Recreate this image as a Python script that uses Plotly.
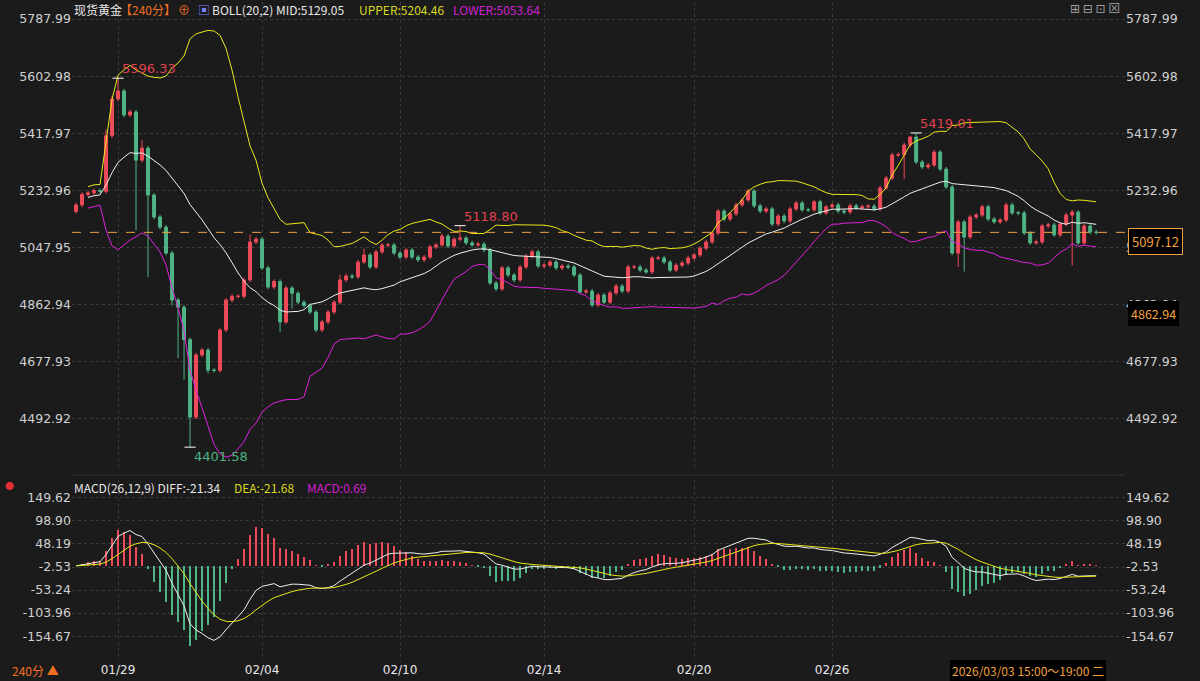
import plotly.graph_objects as go
import numpy as np
import pandas as pd

closes = [5186,5220,5225,5232,5230,5410,5529,5555,5477,5487,5331,5370,5218,5147,5114,5030,4878,4855,4750,4499,
          4700,4716,4651,4650,4781,4878,4890,4890,4943,5066,5075,4982,4920,4938,4807,4917,4900,
          4871,4860,4839,4781,4807,4839,4871,4943,4956,4953,5001,5024,4985,5034,5056,5056,5030,5017,5040,5017,
          5008,5017,5050,5056,5085,5053,5075,5079,5063,5056,5059,5040,4933,4914,4982,4959,4943,4985,5020,5034,
          4988,4991,5001,4982,4988,4985,4959,4904,4907,4862,4894,4871,4901,4923,4907,4985,4985,4975,4969,5014,
          5014,5001,4975,4991,4998,5014,5024,
          5046,5066,5095,5166,5140,5157,5186,5202,5231,5183,5166,5173,5124,5150,5134,5173,5192,5170,5170,5196,
          5160,5180,5186,5166,5163,5183,5176,5180,5182,5173,5241,5273,5348,5348,5380,5406,5325,5309,5315,5357,
          5302,5244,5030,5131,5082,5147,5153,5180,5140,5131,5137,5186,5160,5160,5095,5063,5066,5118,5121,5089,
          5124,5153,5163,5063,5118,5098,5097.12]
first_open = 5165
high_over = {7: 5596.33, 140: 5419.01, 64: 5118.80, 29: 5090, 5: 5430, 6: 5540, 11: 5395, 44: 4960, 48: 5045, 139: 5410}
low_over = {19: 4401.58, 10: 5104, 12: 4952, 16: 4860, 18: 4620, 17: 4690, 22: 4640, 147: 4985, 148: 4970, 34: 4775, 36: 4850, 166: 4990, 138: 5270}
tick_idx = [7, 31, 54, 78, 103, 126]
tick_txt = ['01/29', '02/04', '02/10', '02/14', '02/20', '02/26']
price_ticks = [5787.99, 5602.98, 5417.97, 5232.96, 5047.95, 4862.94, 4677.93, 4492.92]
macd_ticks = [149.62, 98.90, 48.19, -2.53, -53.24, -103.96, -154.67]

n = len(closes)
x = list(range(n))
opens = [first_open] + closes[:-1]
highs = [high_over.get(i, max(opens[i], closes[i]) + 7) for i in range(n)]
lows = [low_over.get(i, min(opens[i], closes[i]) - 7) for i in range(n)]

s = pd.Series(closes, dtype=float)
mid = s.rolling(20, min_periods=3).mean()
sd = s.rolling(20, min_periods=3).std(ddof=0)
up, lo = mid + 2 * sd, mid - 2 * sd
ema12 = s.ewm(span=12, adjust=False).mean()
ema26 = s.ewm(span=26, adjust=False).mean()
dif = ema12 - ema26
dea = dif.ewm(span=9, adjust=False).mean()
hist = 2 * (dif - dea)

RED, GREEN = '#ee4b5a', '#4fb486'
BG = '#1b1b1b'
fig = go.Figure()
fig.add_trace(go.Candlestick(x=x, open=opens, high=highs, low=lows, close=closes,
    increasing=dict(line=dict(color=RED, width=1), fillcolor=RED),
    decreasing=dict(line=dict(color=GREEN, width=1), fillcolor=GREEN), whiskerwidth=0, xaxis='x', yaxis='y'))
fig.add_trace(go.Scatter(x=x, y=up, mode='lines', line=dict(color='#e8e81a', width=1), xaxis='x', yaxis='y'))
fig.add_trace(go.Scatter(x=x, y=mid, mode='lines', line=dict(color='#f0f0f0', width=1), xaxis='x', yaxis='y'))
fig.add_trace(go.Scatter(x=x, y=lo, mode='lines', line=dict(color='#e020e0', width=1), xaxis='x', yaxis='y'))
fig.add_trace(go.Bar(x=x, y=hist, width=0.22, marker=dict(color=[RED if v >= 0 else GREEN for v in hist], line_width=0),
                     xaxis='x2', yaxis='y2'))
fig.add_trace(go.Scatter(x=x, y=dif, mode='lines', line=dict(color='#f0f0f0', width=1), xaxis='x2', yaxis='y2'))
fig.add_trace(go.Scatter(x=x, y=dea, mode='lines', line=dict(color='#e8e81a', width=1), xaxis='x2', yaxis='y2'))
fig.add_trace(go.Scatter(x=[0], y=[closes[0]], mode='markers', marker_opacity=0, xaxis='x', yaxis='y3', hoverinfo='skip'))
fig.add_trace(go.Scatter(x=[0], y=[0], mode='markers', marker_opacity=0, xaxis='x2', yaxis='y4', hoverinfo='skip'))

W, H = 1200, 681
L, T = 72, 2
R = W - 1125
B = H - 661
pw, ph = W - L - R, H - T - B
def px(v): return (v - L) / pw
def py(v): return (H - B - v) / ph

xr = [-0.67, 174.8]
main_dom = [py(470), 1]
macd_dom = [0, py(480)]
ytop = 5787.99 + (19 - T) * 3.238
ybot = 5787.99 - (470 - 19) * 3.238
grid = dict(showgrid=True, gridcolor='#3a3a3a', griddash='dot', gridwidth=1, zeroline=False)
lbl = dict(color='#d0d0d0', size=12.5, family='DejaVu Sans, Verdana')
fig.update_layout(
    width=W, height=H, margin=dict(l=L, r=R, t=T, b=B), paper_bgcolor=BG, plot_bgcolor=BG,
    showlegend=False, bargap=0,
    xaxis=dict(domain=[0, 1], range=xr, tickvals=tick_idx, showticklabels=False, rangeslider=dict(visible=False), **grid),
    xaxis2=dict(domain=[0, 1], range=xr, tickvals=tick_idx, ticktext=tick_txt, anchor='y2',
                tickfont=dict(color='#e8e8e8', size=12, family='DejaVu Sans, Verdana'), ticklen=0, **grid),
    yaxis=dict(domain=main_dom, range=[ybot, ytop], autorange=False, tickvals=price_ticks,
               ticktext=[f'{v:.2f}' for v in price_ticks], tickfont=lbl, **grid),
    yaxis3=dict(domain=main_dom, overlaying='y', side='right', range=[ybot, ytop], autorange=False,
                tickvals=price_ticks, ticktext=[f'{v:.2f}' for v in price_ticks], tickfont=lbl, showgrid=False, zeroline=False),
    yaxis2=dict(domain=macd_dom, range=[-209.4, 189], tickvals=macd_ticks, ticktext=[f'{v:.2f}' for v in macd_ticks],
                tickfont=lbl, anchor='x2', **grid),
    yaxis4=dict(domain=macd_dom, overlaying='y2', side='right', range=[-209.4, 189], tickvals=macd_ticks,
                ticktext=[f'{v:.2f}' for v in macd_ticks], tickfont=lbl, anchor='x2', showgrid=False, zeroline=False),
)

last = closes[-1]
fig.add_shape(type='line', xref='x', yref='y', x0=xr[0], x1=xr[1], y0=last, y1=last,
              line=dict(color='#f0a040', width=1, dash='dash'))
fig.add_shape(type='line', xref='paper', yref='paper', x0=0, x1=1, y0=py(475), y1=py(475), line=dict(color='#333', width=1))

def ann(xp, yp, text, color, size=12, xanchor='left', bg=None, border=None, pad=2):
    fig.add_annotation(xref='paper', yref='paper', x=px(xp), y=py(yp), text=text, showarrow=False,
                       xanchor=xanchor, yanchor='middle', font=dict(color=color, size=size, family='Noto Sans CJK SC, DejaVu Sans'),
                       bgcolor=bg, bordercolor=border, borderwidth=1 if border else 0, borderpad=pad)

ann(72, 10, '现货黄金', '#e8e8e8')
ann(118, 10, '【240分】', '#f07020')
ann(176, 10, '⊕', '#f07020')
ann(196, 10, '▣', '#8080ff')
ann(210, 10, 'BOLL(20,2) MID:5129.05', '#e8e8e8')
ann(357, 10, 'UPPER:5204.46', '#d8d820')
ann(451, 10, 'LOWER:5053.64', '#d020d0')
ann(1068, 8, '⊞ ⊟ ⊡ ⊠', '#a0a0a0', size=12)
ann(72, 487, 'MACD(26,12,9) DIFF:-21.34', '#e8e8e8')
ann(232, 487, 'DEA:-21.68', '#d8d820')
ann(305, 487, 'MACD:0.69', '#d020d0')
ann(3, 485, '●', '#e03030', size=9)
ann(10, 670, '240分 ▲', '#f07020', size=12)
ann(950, 670, '2026/03/03 15:00～19:00 二', '#f0a040', size=12, bg='#000000')
ann(1128, 241, '5097.12', '#f0a040', size=13, bg='#000000', border='#f0a040', pad=3)
ann(1128, 313, '4862.94', '#f0a040', size=12.5, bg='#000000', pad=3)

for i, t, c, top in [(7, '5596.33', '#e04050', True), (19, '4401.58', '#4fb486', False), (64, '5118.80', '#e04050', True), (140, '5419.01', '#e04050', True)]:
    v = highs[i] if top else lows[i]
    fig.add_annotation(x=i, y=v, xref='x', yref='y', text=t, showarrow=False,
                       xanchor='left', yanchor='bottom' if top else 'top', xshift=2,
                       font=dict(color=c, size=13, family='DejaVu Sans'))
    fig.add_trace(go.Scatter(x=[i], y=[v], mode='markers', marker=dict(symbol='line-ew', size=8, line=dict(color='white', width=1)),
                             xaxis='x', yaxis='y', hoverinfo='skip'))

fig.write_html('out.html', config={'displayModeBar': False},
               post_script="document.body.style.margin='0';document.body.style.overflow='hidden';")
